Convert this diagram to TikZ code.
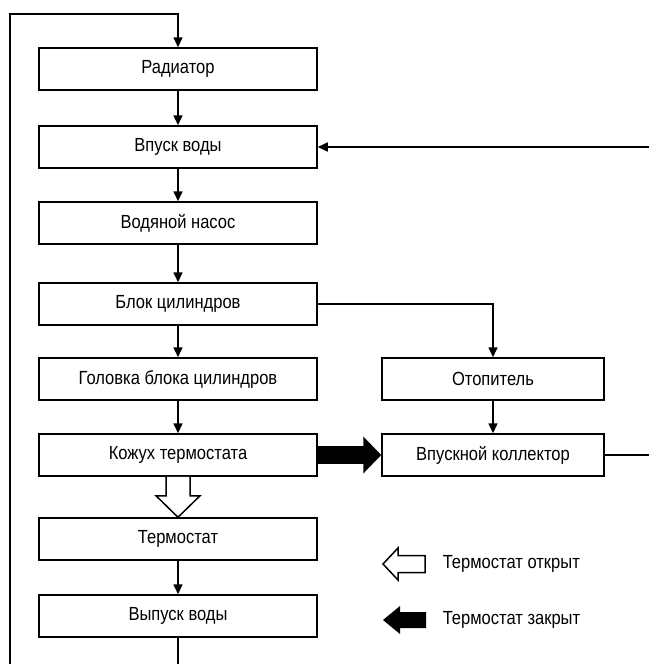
\documentclass[tikz,border=0pt]{standalone}
\usepackage{fontspec}
\setmainfont{Liberation Sans}[FakeStretch=0.87]
\usetikzlibrary{arrows.meta,calc}
\begin{document}
\begin{tikzpicture}[x=1pt,y=-1pt,line width=1.6pt,
  box/.style={draw,line width=1.5pt,minimum width=278pt,minimum height=42pt,inner sep=0pt,font=\fontsize{19}{21}\selectfont},
  rbox/.style={box,minimum width=222pt},
  flow/.style={-{Triangle[length=10pt 0,width=9pt 0]}},
  legtext/.style={anchor=west,inner sep=0pt,font=\fontsize{19}{21}\selectfont}]
\useasboundingbox (0,0) rectangle (648,664);
% left column
\node[box] (rad)   at (178,69)  {Радиатор};
\node[box] (vin)   at (178,147) {Впуск воды};
\node[box] (pump)  at (178,223) {Водяной насос};
\node[box] (block) at (178,304) {Блок цилиндров};
\node[box] (head)  at (178,379) {Головка блока цилиндров};
\node[box] (hous)  at (178,455) {Кожух термостата};
\node[box] (therm) at (178,539) {Термостат};
\node[box] (outl)  at (178,616) {Выпуск воды};
% right column
\node[rbox] (heat) at (493,379) {Отопитель};
\node[rbox] (coll) at (493,455) {Впускной коллектор};
% free ends
\coordinate (bc) at (178,672);
\coordinate (bl) at (10,672);
\coordinate (tl) at (10,14);
\coordinate (tc) at (178,14);
\coordinate (rb) at (652,455);
\coordinate (rt) at (652,147);
% connectors
\draw[flow] (outl.south) -- (bc) -- (bl) -- (tl) -- (tc) -- (rad.north);
\draw[flow] (rad) -- (vin);
\draw[flow] (vin) -- (pump);
\draw[flow] (pump) -- (block);
\draw[flow] (block) -- (head);
\draw[flow] (head) -- (hous);
\draw[flow] (therm) -- (outl);
\draw[flow] (block.east) -| (heat.north);
\draw[flow] (heat) -- (coll);
\draw[flow] (coll.east) -- (rb) -- (rt) -- (vin.east);
% thick closed-thermostat arrow
\draw[line width=18pt,-{Triangle[length=18pt 0,width=36pt 0]}] (hous.east) -- (coll.west);
% hollow open-thermostat arrow
\draw[line width=1.5pt,fill=white,line join=miter]
  ($(hous.south)+(-12,0)$) -- ($(hous.south)+(-12,19)$) -- ($(hous.south)+(-22,19)$)
  -- (therm.north) -- ($(hous.south)+(22,19)$) -- ($(hous.south)+(12,19)$)
  -- ($(hous.south)+(12,0)$);
% legend
\draw[line width=1.5pt,fill=white,line join=miter]
  (383,564) -- (398,548) -- (398,555.5) -- (425,555.5) -- (425,572.5) -- (398,572.5) -- (398,580) -- cycle;
\fill (383,620) -- (400,606) -- (400,612) -- (426,612) -- (426,628) -- (400,628) -- (400,634) -- cycle;
\node[legtext] (lopen)  at (442,564) {Термостат открыт};
\node[legtext] (lclose) at (442,620) {Термостат закрыт};
\end{tikzpicture}
\end{document}
